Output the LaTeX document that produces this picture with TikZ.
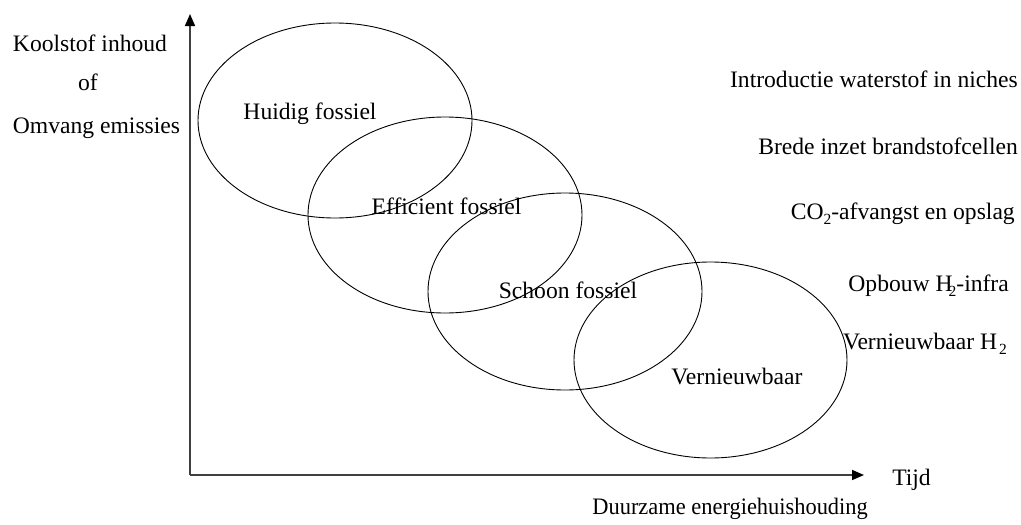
\documentclass[tikz,border=0pt]{standalone}
\usepackage{fontspec}
\setmainfont{Liberation Serif}
\usetikzlibrary{arrows.meta}
\tikzset{
  lbl/.style={inner sep=0pt, text height=0.68em, text depth=0pt, font=\fontsize{23.6}{28}\selectfont},
  axisline/.style={draw=black!75, line width=1.6pt, -{Triangle[length=12pt,width=10pt,fill=black,color=black]}},
  zone/.style={draw=black, line width=0.9pt}
}
\newcommand{\subtwo}{\raisebox{-5pt}{\fontsize{15.5}{16}\selectfont 2}}
\begin{document}
\begin{tikzpicture}[x=1pt,y=-1pt]
\useasboundingbox (0,0) rectangle (1021,525);
% axes
\coordinate (origin) at (190,475);
\coordinate (ytip) at (190,14);
\coordinate (xtip) at (864,475);
\draw[axisline] (origin) -- (ytip);
\draw[axisline] (origin) -- (xtip);
% ellipses
\draw[zone] (335,120.5) ellipse [x radius=137, y radius=97.5];
\draw[zone] (445,215) ellipse [x radius=137, y radius=98];
\draw[zone] (565,291.5) ellipse [x radius=137, y radius=98.5];
\draw[zone] (710.5,360) ellipse [x radius=136.5, y radius=98];
% ellipse labels
\node[lbl] (huidig) at (310,116) {Huidig fossiel};
\node[lbl] (effic) at (446.5,211) {Efficient fossiel};
\node[lbl] (schoon) at (568,295) {Schoon fossiel};
\node[lbl] (vern) at (737,381) {Vernieuwbaar};
% y-axis label
\node[lbl] (kool) at (90,48) {Koolstof inhoud};
\node[lbl] (of) at (88,87) {of};
\node[lbl] (omvang) at (96.5,130) {Omvang emissies};
% x-axis labels
\node[lbl] (tijd) at (911.5,482) {Tijd};
\node[lbl, anchor=east, xscale=0.95] (duurz) at (868,511) {Duurzame energiehuishouding};
% right column
\node[lbl, anchor=east] (intro) at (1018,84) {Introductie waterstof in niches};
\node[lbl, anchor=east] (brede) at (1018,151) {Brede inzet brandstofcellen};
\node[lbl, anchor=east] (co2) at (1015,216) {CO\subtwo-afvangst en opslag};
\node[lbl, anchor=east] (opbouw) at (1009,288) {Opbouw H\kern-4pt\subtwo-infra};
\node[lbl, anchor=east] (vernh) at (1007,346) {Vernieuwbaar H\kern2pt\subtwo};
\end{tikzpicture}
\end{document}
